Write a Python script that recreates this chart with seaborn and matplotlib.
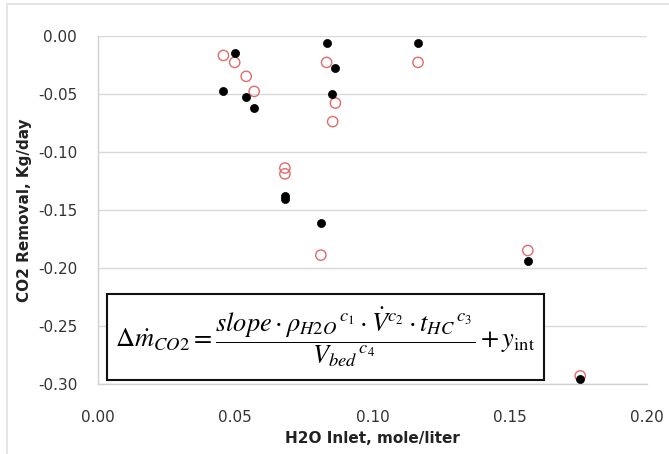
import matplotlib
matplotlib.use("Agg")
import matplotlib.pyplot as plt
from matplotlib.patches import Rectangle
import seaborn as sns
import pandas as pd

# Dados: H2O na entrada (mole/liter) vs remocao de CO2 (Kg/day)
x_medido = [0.0498, 0.0457, 0.0540, 0.0569, 0.0681, 0.0681, 0.0812, 0.0835, 0.0865, 0.0854, 0.1166, 0.1566, 0.1757]
y_medido = [-0.015, -0.048, -0.053, -0.062, -0.138, -0.141, -0.161, -0.006, -0.028, -0.050, -0.006, -0.194, -0.296]

x_modelo = [0.0457, 0.0498, 0.0540, 0.0569, 0.0681, 0.0681, 0.0833, 0.0865, 0.0855, 0.1166, 0.0812, 0.1566, 0.1757]
y_modelo = [-0.017, -0.023, -0.035, -0.048, -0.114, -0.119, -0.023, -0.058, -0.074, -0.023, -0.189, -0.185, -0.293]

x_ticks = [0.00, 0.05, 0.10, 0.15, 0.20]
y_ticks = [0.00, -0.05, -0.10, -0.15, -0.20, -0.25, -0.30]

tb_medido = pd.DataFrame({'x': x_medido, 'y': y_medido})
tb_modelo = pd.DataFrame({'x': x_modelo, 'y': y_modelo})

sns.set_style("white")
plt.rcParams['font.family'] = ['DejaVu Sans']
plt.rcParams['mathtext.fontset'] = 'stix'

fig = plt.figure(figsize=(6.69, 4.54), dpi=100)
ax = fig.add_axes([0.1465, 0.1542, 0.8205, 0.7672])

# circulos abertos (modelo) primeiro, pontos pretos por cima
sns.scatterplot(data=tb_modelo, x='x', y='y', ax=ax, marker='o', s=55,
                facecolors='none', edgecolor='#e46a6a', linewidth=1.0, zorder=3)
sns.scatterplot(data=tb_medido, x='x', y='y', ax=ax, marker='o', s=34,
                color='black', edgecolor='black', linewidth=0.5, zorder=4)

ax.set_xlim(0.0, 0.20)
ax.set_ylim(-0.30, 0.0)
ax.set_xticks(x_ticks)
ax.set_yticks(y_ticks)
ax.set_xticklabels([f'{v:.2f}' for v in x_ticks])
ax.set_yticklabels([f'{v:.2f}' for v in y_ticks])

ax.grid(axis='y', color='#d9d9d9', linewidth=1.0)
ax.set_axisbelow(True)
for lado in ['top', 'right']:
    ax.spines[lado].set_visible(False)
for lado in ['left', 'bottom']:
    ax.spines[lado].set_color('#d0d0d0')
    ax.spines[lado].set_linewidth(1.0)

ax.tick_params(axis='x', length=4, color='#d0d0d0', labelsize=11, labelcolor='#333333', pad=15)
ax.tick_params(axis='y', length=4, color='#d0d0d0', labelsize=11, labelcolor='#333333', pad=11)

ax.set_xlabel('H2O Inlet, mole/liter', fontsize=11, fontweight='bold', color='#222222', labelpad=4)
ax.set_ylabel('CO2 Removal, Kg/day', fontsize=11, fontweight='bold', color='#222222', labelpad=4)

# caixa com a equacao do modelo
caixa = Rectangle((0.0164, 0.0115), 0.7956, 0.247, transform=ax.transAxes,
                  facecolor='white', edgecolor='#111111', linewidth=1.5, zorder=5)
ax.add_patch(caixa)
equacao = (r'$\Delta\dot{m}_{CO2} = \dfrac{slope\cdot{\rho_{H2O}}^{\,c_1}\cdot\dot{V}^{c_2}\cdot{t_{HC}}^{\,c_3}}'
           r'{{V_{bed}}^{\,c_4}} + y_{\mathrm{int}}$')
ax.text(0.4145, 0.135, equacao, transform=ax.transAxes, ha='center', va='center',
        fontsize=19, color='black', zorder=6)

# moldura cinza clara em volta da figura
fig.patches.append(Rectangle((0.0105, -0.01), 1.0, 1.0015, transform=fig.transFigure,
                             fill=False, edgecolor='#e0e0e0', linewidth=1.2))

plt.savefig('out.png', dpi=100)
